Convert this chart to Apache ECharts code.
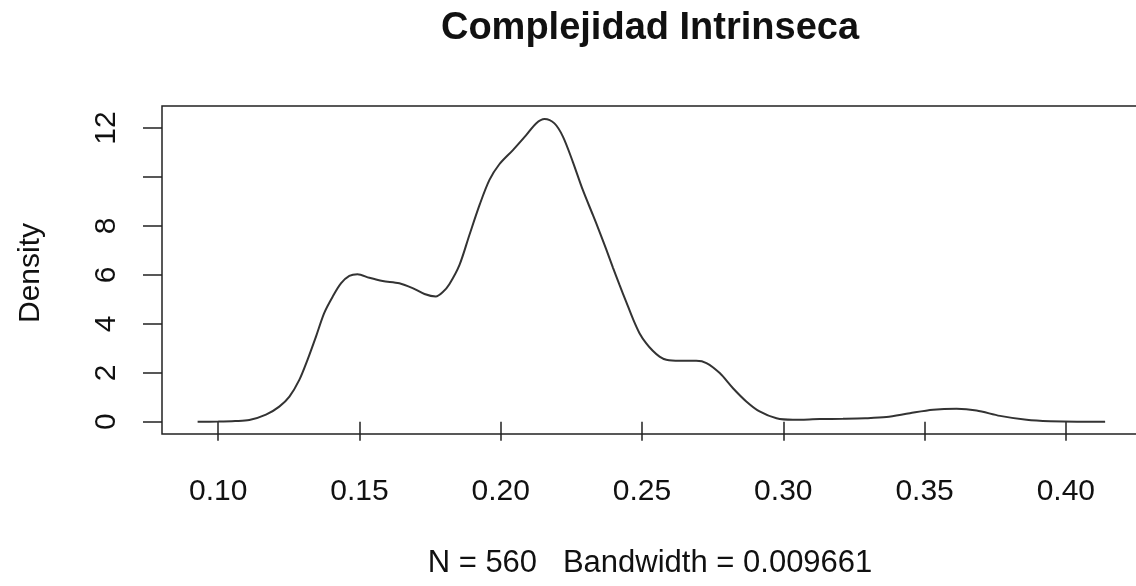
<!DOCTYPE html>
<html>
<head>
<meta charset="utf-8">
<script src="https://cdn.jsdelivr.net/npm/echarts@6/dist/echarts.min.js"></script>
<style>
html,body{margin:0;padding:0;background:#fff;}
#chart{width:1136px;height:586px;}
</style>
</head>
<body>
<div id="chart"></div>
<script>
var titleText = 'Complejidad Intrinseca';
var xLabelText = 'N = 560   Bandwidth = 0.009661';
var yLabelText = 'Density';

var xs = [0.0927, 0.1000, 0.1060, 0.1110, 0.1169, 0.1216, 0.1252, 0.1287, 0.1316, 0.1346,
          0.1375, 0.1405, 0.1435, 0.1464, 0.1493, 0.1535, 0.1582, 0.1641, 0.1688, 0.1730,
          0.1770, 0.1795, 0.1818, 0.1854, 0.1889, 0.1925, 0.1960, 0.1995, 0.2043, 0.2090,
          0.2125, 0.2155, 0.2190, 0.2220, 0.2255, 0.2290, 0.2326, 0.2350, 0.2373, 0.2397,
          0.2420, 0.2444, 0.2468, 0.2491, 0.2515, 0.2538, 0.2562, 0.2586, 0.2633, 0.2692,
          0.2728, 0.2775, 0.2822, 0.2869, 0.2916, 0.2976, 0.3034, 0.3129, 0.3211, 0.3290,
          0.3365, 0.3448, 0.3530, 0.3613, 0.3684, 0.3767, 0.3861, 0.3944, 0.4040, 0.4139];
var ys = [0.00, 0.01, 0.03, 0.07, 0.29, 0.62, 1.03, 1.71, 2.53, 3.48,
          4.44, 5.11, 5.66, 5.96, 6.03, 5.88, 5.75, 5.66, 5.46, 5.22,
          5.12, 5.30, 5.62, 6.41, 7.63, 8.86, 9.88, 10.52, 11.10, 11.71,
          12.19, 12.37, 12.19, 11.65, 10.62, 9.48, 8.45, 7.75, 7.05, 6.30,
          5.60, 4.90, 4.20, 3.62, 3.20, 2.90, 2.66, 2.53, 2.49, 2.49,
          2.40, 1.99, 1.37, 0.83, 0.42, 0.14, 0.08, 0.11, 0.12, 0.14,
          0.19, 0.35, 0.49, 0.53, 0.46, 0.24, 0.08, 0.02, 0.00, 0.00];

var xTicks = [0.10, 0.15, 0.20, 0.25, 0.30, 0.35, 0.40];
var yTicks = [0, 2, 4, 6, 8, 10, 12];
var yTickLabels = [0, 2, 4, 6, 8, 12];

var FONT = 'Liberation Sans, Arial, Helvetica, sans-serif';
var data = xs.map(function (x, i) { return [x, ys[i]]; });

var chart = echarts.init(document.getElementById('chart'), null, {renderer: 'canvas'});
chart.setOption({
  animation: false,
  backgroundColor: '#fff',
  grid: {
    left: 162, top: 106, width: 979, height: 328,
    outerBoundsMode: 'none', containLabel: false,
    show: true, borderColor: '#222', borderWidth: 1.5, backgroundColor: 'transparent'
  },
  xAxis: {
    type: 'value', min: 0.0801, max: 0.4266,
    splitLine: {show: false},
    axisLine: {show: false},
    axisTick: {show: true, customValues: xTicks, length: 19, inside: false,
      lineStyle: {color: '#222', width: 1.5}},
    axisLabel: {show: true, customValues: xTicks, margin: 43, fontSize: 30,
      fontFamily: FONT, color: '#111',
      formatter: function (v) { return v.toFixed(2); }}
  },
  yAxis: {
    type: 'value', min: -0.5, max: 12.9,
    splitLine: {show: false},
    axisLine: {show: false},
    axisTick: {show: true, customValues: yTicks, length: 19, inside: false,
      lineStyle: {color: '#222', width: 1.5}},
    axisLabel: {show: true, customValues: yTickLabels, margin: 40, fontSize: 30,
      rotate: 90, fontFamily: FONT, color: '#111',
      formatter: function (v) { return String(v); }}
  },
  series: [{
    type: 'line',
    data: data,
    showSymbol: false,
    smooth: 0.3,
    lineStyle: {color: '#333', width: 2},
    silent: true
  }],
  graphic: [
    {type: 'text', x: 650, y: 29, style: {text: titleText, fontSize: 38, fontWeight: 'bold',
      fontFamily: FONT, fill: '#111', textAlign: 'center', textVerticalAlign: 'middle'}},
    {type: 'text', x: 650, y: 563, style: {text: xLabelText, fontSize: 31,
      fontFamily: FONT, fill: '#111', textAlign: 'center', textVerticalAlign: 'middle'}},
    {type: 'text', x: 31, y: 273, rotation: Math.PI / 2, style: {text: yLabelText, fontSize: 30,
      fontFamily: FONT, fill: '#111', textAlign: 'center', textVerticalAlign: 'middle'}}
  ]
});
</script>
</body>
</html>
